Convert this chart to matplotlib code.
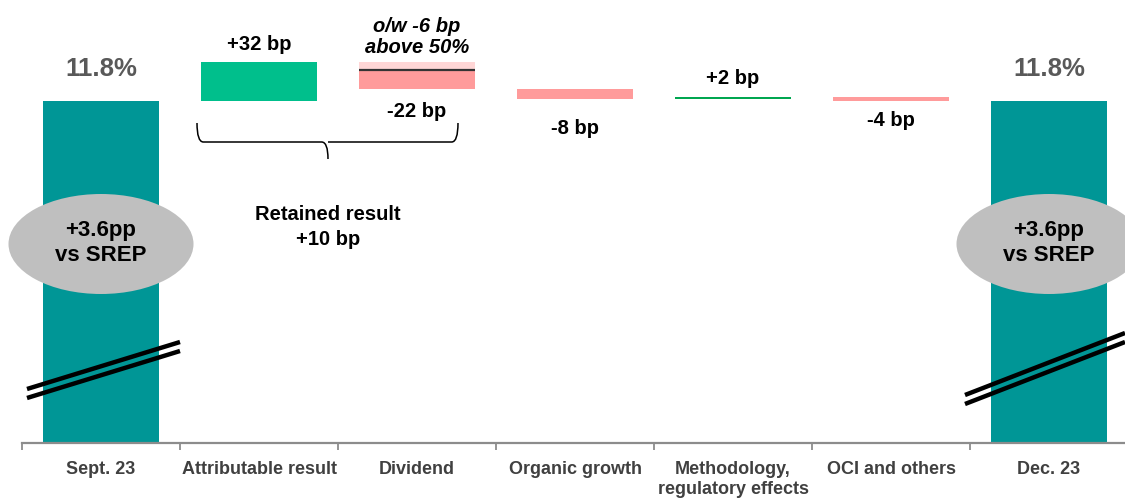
import matplotlib
matplotlib.use("Agg")
import matplotlib.pyplot as plt
from matplotlib.patches import Ellipse, PathPatch
from matplotlib.path import Path

plt.rcParams['font.family'] = ['Liberation Sans', 'DejaVu Sans']

# ---------------- data ----------------
categories = ["Sept. 23", "Attributable result", "Dividend", "Organic growth",
              "Methodology,\nregulatory effects", "OCI and others", "Dec. 23"]
start_label = "11.8%"
end_label = "11.8%"
deltas_bp = [32, -22, -8, 2, -4]          # steps between the two totals
delta_labels = ["+32 bp", "-22 bp", "-8 bp", "+2 bp", "-4 bp"]
dividend_above50_bp = -6                  # part of dividend above 50% payout
dividend_note = "o/w -6 bp\nabove 50%"
retained_label = "Retained result\n+10 bp"
srep_label = "+3.6pp\nvs SREP"

# ---------------- style ----------------
BASE = 280.0              # visual height of the (broken) total bars, in bp units
TEAL = "#009696"
GREEN = "#00BF8C"
GREEN_DARK = "#00A650"
PINK = "#FF9B9B"
PINK_LIGHT = "#FFD6D6"
GRAY_TXT = "#404040"
BAR_W = 0.735

W, H = 1125, 498
fig = plt.figure(figsize=(W / 100, H / 100), dpi=100)
ax_left, ax_bottom, ax_top = 22, 443, 0
slot = 158
ax = fig.add_axes([ax_left / W, (H - ax_bottom) / H, 7 * slot / W, (ax_bottom - ax_top) / H])
px_per_bp = 1.22
ax.set_xlim(-0.5, 6.5)
ax.set_ylim(0, (ax_bottom - ax_top) / px_per_bp)

# totals
n = len(categories)
ax.bar([0, n - 1], [BASE, BASE], width=BAR_W, color=TEAL, zorder=2)
ax.text(0, BASE + 17, start_label, ha='center', va='bottom', fontsize=18.5,
        fontweight='bold', color="#595959")
ax.text(n - 1, BASE + 17, end_label, ha='center', va='bottom', fontsize=18.5,
        fontweight='bold', color="#595959")

# steps
level = BASE
label_off = [8, 13, 20, 9, 10]   # px gaps
for i, d in enumerate(deltas_bp):
    x = i + 1
    bottom = level if d >= 0 else level + d
    if i == 1:
        # dividend split: light part = above 50% portion
        ax.bar(x, -d + dividend_above50_bp, bottom=bottom, width=BAR_W,
               color=PINK, zorder=2, linewidth=0)
        ax.bar(x, -dividend_above50_bp, bottom=level + dividend_above50_bp,
               width=BAR_W, color=PINK_LIGHT, zorder=2, linewidth=0)
        ax.plot([x - BAR_W / 2, x + BAR_W / 2], [level + dividend_above50_bp] * 2,
                color="#333333", lw=1.6, zorder=3, solid_capstyle='butt')
    else:
        col = (GREEN if i == 0 else GREEN_DARK) if d >= 0 else PINK
        ax.bar(x, abs(d), bottom=bottom, width=BAR_W, color=col, zorder=2, linewidth=0)
    if d >= 0:
        ax.annotate(delta_labels[i], (x, level + d), xytext=(0, label_off[i] * 0.72),
                    textcoords='offset points', ha='center', va='bottom',
                    fontsize=14.5, fontweight='bold', color='black')
    else:
        ax.annotate(delta_labels[i], (x, level + d), xytext=(0, -label_off[i] * 0.72),
                    textcoords='offset points', ha='center', va='top',
                    fontsize=14.5, fontweight='bold', color='black')
    level += d

# dividend note
ax.annotate(dividend_note, (2, BASE + deltas_bp[0]), xytext=(0, 4),
            textcoords='offset points', ha='center', va='bottom', fontsize=14.5,
            fontweight='bold', fontstyle='italic', color='black', linespacing=1.15)

# brace under attributable + dividend
def ypx(p):
    return (ax_bottom - p) / px_per_bp

def xpx(p):
    return (p - ax_left) / slot - 0.5

xl, xr, xc = xpx(197), xpx(458), xpx(328)
yt, ym, yb = ypx(123), ypx(142), ypx(159)
dx = 0.04
verts = [(xl, yt), (xl, ym), (xl + dx, ym),
         (xc - dx, ym), (xc, ym), (xc, yb),
         (xc, ym), (xc + dx, ym),
         (xr - dx, ym), (xr, ym), (xr, yt)]
codes = [Path.MOVETO, Path.CURVE3, Path.CURVE3,
         Path.LINETO, Path.CURVE3, Path.CURVE3,
         Path.MOVETO, Path.CURVE3,
         Path.LINETO, Path.CURVE3, Path.CURVE3]
ax.add_patch(PathPatch(Path(verts, codes), fill=False, lw=1.1, color='black', zorder=3))
ax.text(xc, ypx(227), retained_label, ha='center', va='center', fontsize=14.5,
        fontweight='bold', color='black', linespacing=1.45)

# SREP ellipses
for cx in [0, n - 1]:
    e = Ellipse((cx, ypx(244)), width=185 / slot, height=100 / px_per_bp,
                facecolor="#BFBFBF", edgecolor='none', zorder=4, clip_on=False)
    ax.add_patch(e)
    ax.text(cx, ypx(243), srep_label, ha='center', va='center', fontsize=16,
            fontweight='bold', color='black', zorder=5, linespacing=1.2)

# axis break marks
for (x0, y0, x1, y1) in [(27, 389, 180, 342), (965, 395, 1125, 333)]:
    for off in (0, 9):
        ax.plot([xpx(x0), xpx(x1)], [ypx(y0 + off), ypx(y1 + off)], color='black',
                lw=3.2, solid_capstyle='butt', zorder=5, clip_on=False)

# axes styling
for s in ['top', 'left', 'right']:
    ax.spines[s].set_visible(False)
ax.spines['bottom'].set_color('#8C8C8C')
ax.spines['bottom'].set_linewidth(1.6)
ax.set_yticks([])
ax.set_xticks(range(n))
ax.set_xticklabels(categories, fontsize=13, fontweight='bold', color=GRAY_TXT,
                   linespacing=1.2)
ax.tick_params(axis='x', which='major', length=0, pad=13)
ax.set_xticks([i - 0.5 for i in range(n + 1)], minor=True)
ax.tick_params(axis='x', which='minor', length=5, width=1.3, color='#8C8C8C', direction='out')

fig.savefig("out.png", dpi=100)
